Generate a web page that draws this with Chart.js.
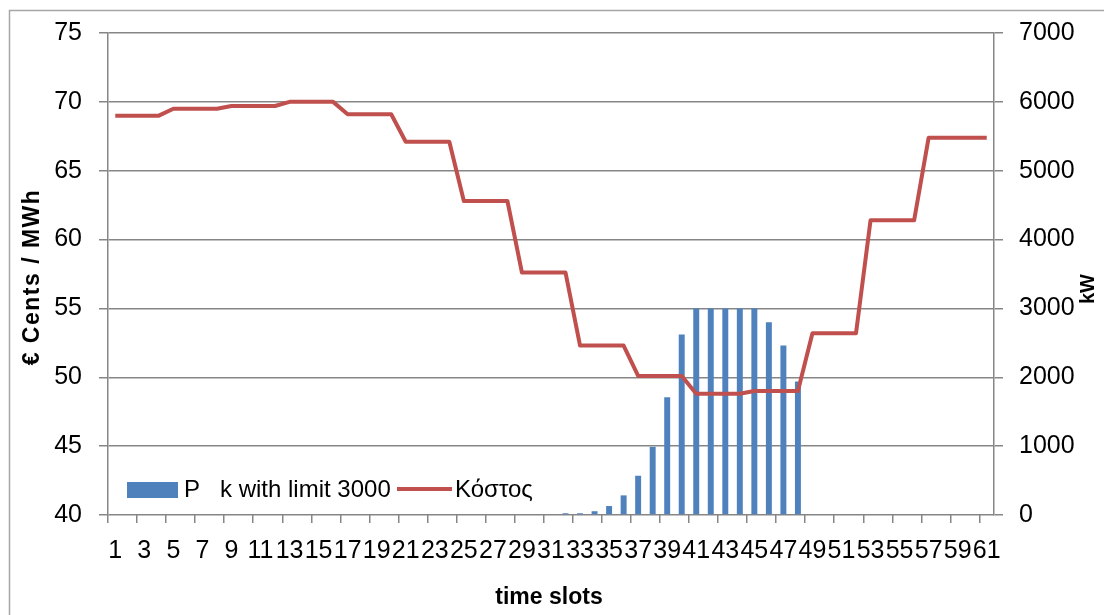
<!DOCTYPE html>
<html>
<head>
<meta charset="utf-8">
<script src="https://cdn.jsdelivr.net/npm/chart.js@4/dist/chart.umd.min.js"></script>
<style>
  html, body { margin: 0; padding: 0; background: #fff; }
  #wrap { width: 1104px; height: 615px; }
</style>
</head>
<body>
<div id="wrap"><canvas id="chart" width="1104" height="615"></canvas></div>
<script>
// Time slots on the category axis
const slots = ['1','2','3','4','5','6','7','8','9','10','11','12','13','14','15','16','17','18','19','20',
  '21','22','23','24','25','26','27','28','29','30','31','32','33','34','35','36','37','38','39','40',
  '41','42','43','44','45','46','47','48','49','50','51','52','53','54','55','56','57','58','59','60','61'];

// Energy cost per slot (€ cents / MWh, left axis)
const costCents = [69.0,69.0,69.0,69.0, 69.5,69.5,69.5,69.5, 69.7,69.7,69.7,69.7, 70.0,70.0,70.0,70.0,
  69.1,69.1,69.1,69.1, 67.1,67.1,67.1,67.1, 62.8,62.8,62.8,62.8, 57.6,57.6,57.6,57.6,
  52.3,52.3,52.3,52.3, 50.1,50.1,50.1,50.1, 48.8,48.8,48.8,48.8, 49.0,49.0,49.0,49.0,
  53.2,53.2,53.2,53.2, 61.4,61.4,61.4,61.4, 67.4,67.4,67.4,67.4,67.4];

// Scheduled load per slot (kW, right axis), capped at 3000
const peakKw = [0,0,0,0,0,0,0,0,0,0, 0,0,0,0,0,0,0,0,0,0, 0,0,0,0,0,0,0,0,0,0, 0,
  25,25,55,130,285,570,990,1710,2620, 3000,3000,3000,3000,3000, 2800,2460,1940,
  0,0,0,0,0,0,0,0,0,0,0,0,0];

const seriesNames = ['P   k with limit 3000', 'Κόστος'];
const axisTitles = { left: '€ Cents / MWh', right: 'kW', bottom: 'time slots' };

const FONT = '"Liberation Sans", Arial, sans-serif';
const GRID = '#868686';
const BLUE = '#4F81BD';
const RED = '#C0504D';

// White page with a thin frame around the chart
const framePlugin = {
  id: 'frame',
  beforeDraw(chart) {
    const c = chart.ctx;
    c.save();
    c.fillStyle = '#fff';
    c.fillRect(0, 0, chart.width, chart.height);
    c.strokeStyle = '#A6A6A6';
    c.lineWidth = 1.5;
    c.strokeRect(9.5, 10.5, 1200, 700);
    c.restore();
  }
};

// Axis titles (both vertical ones read bottom-to-top)
const titlePlugin = {
  id: 'axisTitles',
  afterDraw(chart) {
    const c = chart.ctx;
    c.save();
    c.fillStyle = '#000';
    c.textAlign = 'center';
    c.textBaseline = 'middle';
    c.font = 'bold 23px ' + FONT;
    c.fillText(axisTitles.bottom, 549, 598);
    c.save();
    c.translate(33, 277);
    c.rotate(-Math.PI / 2);
    if ('letterSpacing' in c) c.letterSpacing = '1.5px';
    c.fillText(axisTitles.left, 0, 0);
    c.restore();
    c.save();
    c.font = 'bold 20px ' + FONT;
    c.translate(1088, 289);
    c.rotate(-Math.PI / 2);
    c.fillText(axisTitles.right, 0, 0);
    c.restore();
    c.restore();
  }
};

// Legend drawn inside the plot, lower-left
const legendPlugin = {
  id: 'innerLegend',
  afterDraw(chart) {
    const c = chart.ctx;
    c.save();
    c.fillStyle = BLUE;
    c.fillRect(127, 482, 51, 16);
    c.fillStyle = '#000';
    c.font = '24px ' + FONT;
    c.textAlign = 'left';
    c.textBaseline = 'middle';
    c.fillText(seriesNames[0], 184, 490);
    c.strokeStyle = RED;
    c.lineWidth = 4;
    c.beginPath();
    c.moveTo(397, 489);
    c.lineTo(452, 489);
    c.stroke();
    c.fillText(seriesNames[1], 455, 490);
    c.restore();
  }
};

new Chart(document.getElementById('chart'), {
  data: {
    labels: slots,
    datasets: [
      {
        type: 'line',
        label: seriesNames[1],
        data: costCents,
        yAxisID: 'y',
        borderColor: RED,
        borderWidth: 4,
        pointRadius: 0,
        tension: 0,
        borderJoinStyle: 'round',
        order: 0
      },
      {
        type: 'bar',
        label: seriesNames[0],
        data: peakKw,
        yAxisID: 'y1',
        backgroundColor: BLUE,
        barPercentage: 0.41,
        categoryPercentage: 1,
        order: 1
      }
    ]
  },
  options: {
    responsive: false,
    animation: false,
    layout: { padding: { top: 33, left: 0, right: 0, bottom: 0 } },
    plugins: { legend: { display: false }, tooltip: { enabled: false } },
    scales: {
      x: {
        offset: true,
        grid: {
          offset: true,
          drawOnChartArea: false,
          tickLength: 8,
          lineWidth: 1.5,
          color: (ctx) => (ctx.index % 2 === 0 ? GRID : 'rgba(0,0,0,0)')
        },
        border: { display: false },
        ticks: {
          autoSkip: false,
          maxRotation: 0,
          minRotation: 0,
          padding: 13,
          color: '#000',
          font: { family: FONT, size: 25 },
          callback: (v, i) => (i % 2 === 0 ? slots[i] : '')
        },
        afterFit: (s) => { s.height = 100; }
      },
      y: {
        position: 'left',
        min: 40,
        max: 75,
        ticks: { stepSize: 5, padding: 17, color: '#000', font: { family: FONT, size: 25 } },
        grid: { color: GRID, lineWidth: 1.5, tickLength: 9 },
        border: { color: GRID, width: 1.5 },
        afterFit: (s) => { s.width = 108; }
      },
      y1: {
        position: 'right',
        min: 0,
        max: 7000,
        ticks: {
          stepSize: 1000, padding: 16, color: '#000', font: { family: FONT, size: 25 },
          callback: (v) => String(v)
        },
        grid: { drawOnChartArea: false, color: GRID, lineWidth: 1.5, tickLength: 9 },
        border: { color: GRID, width: 1.5 },
        afterFit: (s) => { s.width = 110; }
      }
    }
  },
  plugins: [framePlugin, titlePlugin, legendPlugin]
});
</script>
</body>
</html>
